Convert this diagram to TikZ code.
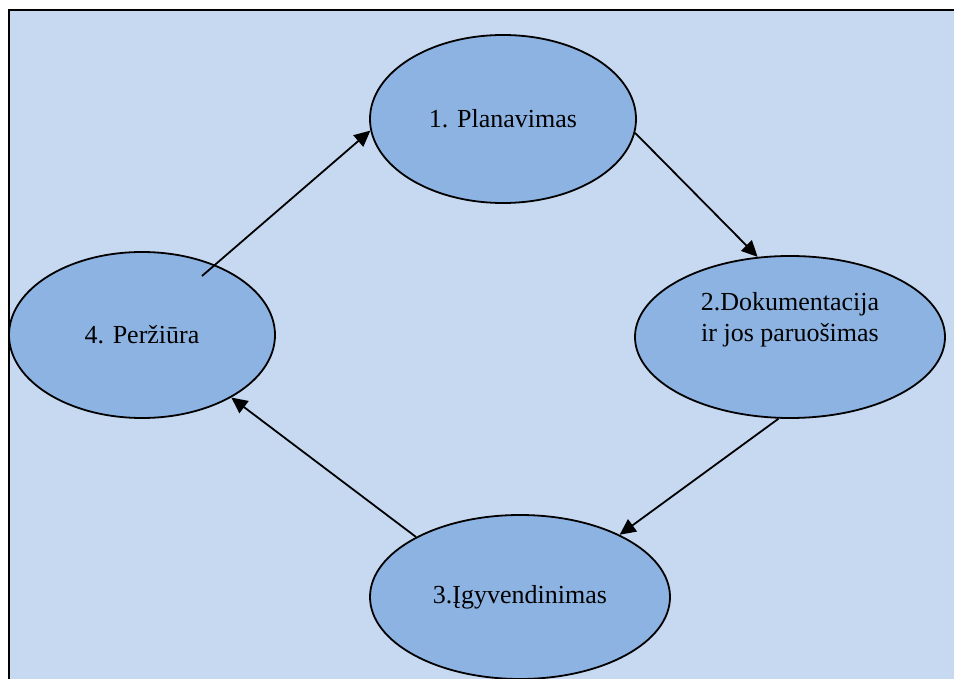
\documentclass[tikz,border=0pt]{standalone}
\usepackage{fontspec}
\setmainfont{Liberation Serif}
\usetikzlibrary{shapes.geometric,arrows.meta}
\definecolor{pagefill}{HTML}{C6D9F0}
\definecolor{stagefill}{HTML}{8DB3E2}
\begin{document}
\begin{tikzpicture}[x=0.5pt,y=-0.5pt,
  stage/.style={ellipse,draw,line width=0.9pt,fill=stagefill,inner sep=0pt,
    align=center,font=\fontsize{13}{15.5}\selectfont},
  arr/.style={-{Triangle[length=8pt,width=7.5pt]},line width=0.9pt}]
  \useasboundingbox (0,0) rectangle (954,679);
  \fill[white] (0,0) rectangle (954,679);
  \begin{scope}
    \clip (0,0) rectangle (954,679);
    \fill[pagefill] (9,10) rectangle (970,700);
    \draw[line width=1.2pt] (9,700) -- (9,10) -- (970,10);
  \end{scope}
  \node[stage,minimum width=133pt,minimum height=84pt] (1) at (503,119) {1. Planavimas};
  \node[stage,minimum width=155pt,minimum height=81pt,text depth=20pt] (2) at (790,337) {2.Dokumentacija\\ir jos paruošimas};
  \node[stage,minimum width=150pt,minimum height=82pt] (3) at (520,597) {3.Įgyvendinimas};
  \node[stage,minimum width=133pt,minimum height=83pt] (4) at (142,335) {4. Peržiūra};
  \coordinate (4s) at ([shift={(60,-59)}]4.center);
  \draw[arr] (4s) -- (1.185.6);
  \draw[arr] (1.354.3) -- (2.112);
  \draw[arr] (2.-98) -- (3.32);
  \draw[arr] (3.150.6) -- (4.-35.8);
\end{tikzpicture}
\end{document}
